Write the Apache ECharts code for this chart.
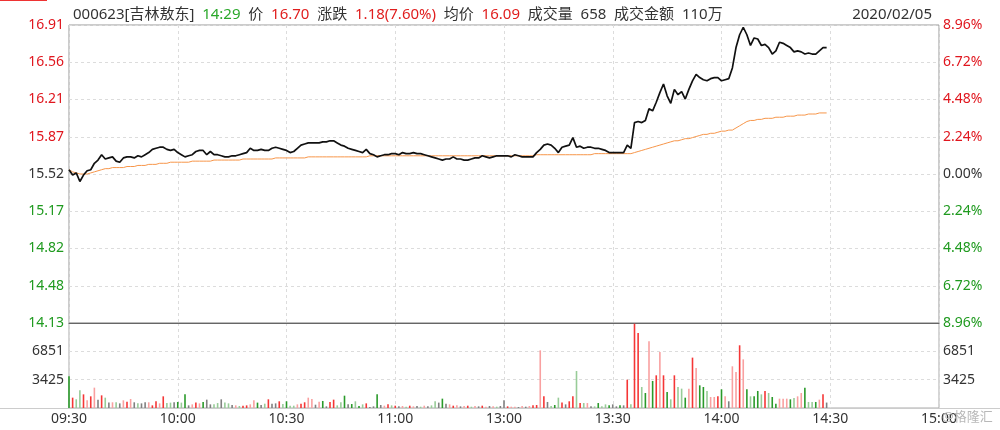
<!DOCTYPE html>
<html><head><meta charset="utf-8">
<script src="https://cdn.jsdelivr.net/npm/echarts@6/dist/echarts.min.js"></script>
<style>html,body{margin:0;padding:0;background:#fff}#c{width:1000px;height:430px}</style>
</head><body><div id="c"></div>
<script>
// ---------- data ----------
const timeLabels = ['09:30','10:00','10:30','11:00','13:00','13:30','14:00','14:30','15:00'];
const priceTicks = ['14.13','14.48','14.82','15.17','15.52','15.87','16.21','16.56','16.91']; // bottom -> top
const pctTicks   = ['8.96%','6.72%','4.48%','2.24%','0.00%','2.24%','4.48%','6.72%','8.96%']; // bottom -> top
const volTicks   = ['', '3425', '6851', ''];
const prevClose = 15.52;
const header = {code:'000623', name:'吉林敖东', time:'14:29', price:'16.70', change:'1.18(7.60%)',
  avg:'16.09', vol:'658', amount:'110万', date:'2020/02/05'};

const prices = [
15.56,15.51,15.53,15.45,15.51,15.55,15.56,15.62,15.65,15.70,
15.66,15.67,15.68,15.64,15.63,15.67,15.68,15.68,15.67,15.69,
15.68,15.70,15.72,15.75,15.76,15.77,15.77,15.75,15.74,15.75,
15.72,15.70,15.68,15.69,15.70,15.73,15.74,15.74,15.70,15.73,
15.70,15.70,15.69,15.68,15.68,15.69,15.69,15.70,15.71,15.72,
15.76,15.74,15.74,15.75,15.74,15.74,15.76,15.77,15.76,15.75,
15.74,15.72,15.73,15.76,15.79,15.80,15.81,15.81,15.81,15.81,
15.82,15.82,15.83,15.83,15.81,15.79,15.78,15.76,15.75,15.74,
15.73,15.72,15.75,15.71,15.70,15.68,15.69,15.70,15.70,15.71,
15.71,15.70,15.72,15.71,15.71,15.72,15.71,15.71,15.70,15.69,
15.68,15.67,15.66,15.65,15.66,15.66,15.68,15.66,15.66,15.65,
15.65,15.66,15.67,15.67,15.69,15.68,15.67,15.68,15.69,15.69,
15.69,15.69,15.68,15.70,15.69,15.68,15.68,15.68,15.68,15.72,
15.75,15.79,15.80,15.79,15.76,15.72,15.77,15.78,15.79,15.86,
15.77,15.78,15.76,15.77,15.77,15.76,15.76,15.75,15.74,15.72,
15.72,15.72,15.72,15.72,15.79,15.76,16.00,16.01,16.00,16.02,
16.13,16.11,16.19,16.28,16.36,16.25,16.18,16.31,16.26,16.29,
16.22,16.31,16.39,16.45,16.42,16.40,16.39,16.41,16.42,16.42,
16.39,16.40,16.41,16.51,16.70,16.82,16.89,16.82,16.72,16.79,
16.78,16.72,16.73,16.70,16.64,16.67,16.75,16.74,16.72,16.70,
16.66,16.67,16.66,16.64,16.65,16.64,16.64,16.67,16.70,16.70];

const avgPrices = [
15.56,15.54,15.53,15.52,15.52,15.52,15.53,15.54,15.55,15.56,
15.57,15.57,15.58,15.58,15.58,15.58,15.59,15.59,15.59,15.60,
15.60,15.60,15.61,15.61,15.61,15.62,15.62,15.62,15.63,15.63,
15.63,15.63,15.63,15.63,15.64,15.64,15.64,15.64,15.64,15.64,
15.65,15.65,15.65,15.65,15.65,15.65,15.65,15.65,15.66,15.66,
15.66,15.66,15.66,15.66,15.66,15.66,15.66,15.67,15.67,15.67,
15.67,15.67,15.67,15.67,15.67,15.67,15.68,15.68,15.68,15.68,
15.68,15.68,15.68,15.68,15.68,15.68,15.68,15.68,15.68,15.68,
15.68,15.68,15.68,15.69,15.69,15.69,15.69,15.69,15.69,15.69,
15.69,15.69,15.69,15.69,15.69,15.69,15.69,15.69,15.69,15.69,
15.69,15.69,15.69,15.69,15.69,15.69,15.69,15.69,15.69,15.69,
15.69,15.69,15.69,15.69,15.69,15.69,15.69,15.69,15.69,15.69,
15.69,15.69,15.69,15.69,15.69,15.69,15.69,15.69,15.69,15.70,
15.70,15.70,15.70,15.70,15.70,15.70,15.70,15.70,15.70,15.70,
15.70,15.70,15.70,15.70,15.70,15.71,15.71,15.71,15.71,15.71,
15.71,15.71,15.71,15.71,15.71,15.71,15.72,15.73,15.74,15.75,
15.76,15.77,15.78,15.79,15.80,15.81,15.82,15.83,15.83,15.84,
15.85,15.85,15.86,15.87,15.88,15.89,15.89,15.90,15.90,15.91,
15.92,15.92,15.93,15.93,15.95,15.97,15.99,16.01,16.02,16.02,
16.03,16.03,16.04,16.04,16.04,16.05,16.05,16.05,16.06,16.06,
16.06,16.07,16.07,16.07,16.08,16.08,16.08,16.09,16.09,16.09];

const volumes = [
3830,1250,1050,2140,1650,930,1410,2460,1000,1530,
1250,650,690,690,560,930,770,1090,690,560,
560,690,690,320,810,560,1410,600,650,690,
730,650,1650,320,440,650,560,730,1010,440,
440,600,1050,650,560,360,320,240,280,320,
440,930,650,360,520,1050,520,560,810,480,
810,280,280,440,520,690,1250,1090,400,770,
850,200,730,1010,320,690,1490,440,480,810,
240,440,560,120,200,1650,360,280,440,320,
280,200,240,160,280,200,240,160,280,200,
320,810,650,1130,520,440,280,320,200,240,
280,160,240,200,280,160,240,200,160,240,
930,200,160,160,120,240,160,240,320,360,
6970,1410,730,240,360,1250,650,440,810,1410,
4470,600,600,600,200,200,600,200,440,320,
440,200,320,320,3420,440,10190,9060,2540,1810,
8060,3270,3950,6770,3950,1930,1050,3950,2540,2340,
1250,2340,6090,4840,2740,2540,2060,1330,1330,1410,
2260,1410,810,5040,4350,7580,5880,2260,1410,1410,
2060,1650,2060,1810,1330,520,1130,1130,1130,1050,
1210,1410,1810,2460,730,730,730,1010,1650,658];

// R red, r light red, G green, g light green, N neutral
const volColors = (
'GRggRrRrNR'+'gNrgNrRrNg'+'NNrRRrRggN'+'GgGNrRrGNN'+'ggNggNrgRR'+
'rrGNgRNNRg'+'GggrRRrrNr'+'GNRRggGNGg'+'GgRNNGNrRg'+'RNrgRrNgrN'+
'ggNGNrRrNr'+'RgrNRrNrgN'+'NRrrNrNrRR'+'rRNgGgRNRR'+'gRgrNgGggG'+
'NNGNRgRRgG'+'rGRrRGgRgg'+'GrRrGGgrrR'+'GrNrrRrGgG'+'GgRgGGrrrG'+
'grrGggGrRN').split('');

// ---------- chart ----------
const FONT = 'Noto Sans, Noto Sans CJK SC, sans-serif';
const RED = '#e0161e', GREEN = '#1f9a1f', GRAY = '#333';
const barColor = {R:'#f53636', r:'#f9a0a0', G:'#2a9a2a', g:'#98cc98', N:'#808080'};
const lo = 14.129, hi = 16.911, step = (hi - lo) / 8;
const sideColor = (v, i) => i < 4 ? GREEN : (i > 4 ? RED : GRAY);
const split = {show:true, lineStyle:{type:[3,3], color:'#dcdcdc', width:1}};

const chart = echarts.init(document.getElementById('c'), null, {renderer:'canvas'});
chart.setOption({
  animation:false,
  backgroundColor:'#fff',
  textStyle:{fontFamily:FONT},
  title:[{
    left:68, top:2,
    text:'{n|'+header.code+'['+header.name+']}  {g|'+header.time+'}  {n|价}  {r|'+header.price+'}  {n|涨跌}  {r|'+
      header.change+'}  {n|均价}  {r|'+header.avg+'}  {n|成交量}  {n|'+header.vol+'}  {n|成交金额}  {n|'+header.amount+'}',
    textStyle:{fontSize:15, fontWeight:'normal', fontFamily:FONT,
      rich:{n:{color:'#333',fontSize:15,fontFamily:FONT}, g:{color:'#2aa82a',fontSize:15,fontFamily:FONT}, r:{color:'#e01e1e',fontSize:15,fontFamily:FONT}}}
  },{
    right:63, top:2, text:header.date,
    textStyle:{fontSize:15, fontWeight:'normal', color:'#333', fontFamily:FONT}
  }],
  grid:[
    {left:69, right:61, top:25, height:298, show:true, borderColor:'#999', borderWidth:1, containLabel:false},
    {left:69, right:61, top:323, height:85, show:true, borderColor:'#aaa', borderWidth:1, containLabel:false}
  ],
  xAxis:[
    {type:'value', gridIndex:0, min:0, max:240, interval:30,
     axisLine:{show:true, onZero:false, lineStyle:{color:'#666'}}, axisTick:{show:false}, axisLabel:{show:false}, splitLine:split},
    {type:'value', gridIndex:1, min:0, max:240, interval:30,
     axisLine:{show:false}, axisTick:{show:false}, splitLine:split,
     axisLabel:{show:true, margin:4, fontSize:14, color:'#333', fontFamily:FONT,
       formatter:(v,i)=>timeLabels[Math.round(v/30)]}}
  ],
  yAxis:[
    {type:'value', gridIndex:0, position:'left', min:lo, max:hi, interval:step,
     axisLine:{show:false}, axisTick:{show:false}, splitLine:split,
     axisLabel:{margin:5, fontSize:14, fontFamily:FONT, color:sideColor, formatter:(v,i)=>priceTicks[i]}},
    {type:'value', gridIndex:0, position:'right', min:lo, max:hi, interval:step,
     axisLine:{show:false}, axisTick:{show:false}, splitLine:{show:false},
     axisLabel:{margin:4, fontSize:14, fontFamily:FONT, color:sideColor, formatter:(v,i)=>pctTicks[i]}},
    {type:'value', gridIndex:1, position:'left', min:0, max:10275, interval:3425,
     axisLine:{show:false}, axisTick:{show:false}, splitLine:split,
     axisLabel:{margin:5, fontSize:14, fontFamily:FONT, color:'#333', formatter:(v,i)=>volTicks[i]}},
    {type:'value', gridIndex:1, position:'right', min:0, max:10275, interval:3425,
     axisLine:{show:false}, axisTick:{show:false}, splitLine:{show:false},
     axisLabel:{margin:4, fontSize:14, fontFamily:FONT, color:'#333', formatter:(v,i)=>volTicks[i]}}
  ],
  series:[
    {type:'line', name:'均价', xAxisIndex:0, yAxisIndex:0, symbol:'none', smooth:false,
     data:avgPrices.map((p,i)=>[i,p]), lineStyle:{color:'#f7964a', width:1}},
    {type:'line', name:'价格', xAxisIndex:0, yAxisIndex:0, symbol:'none', smooth:false,
     data:prices.map((p,i)=>[i,p]), lineStyle:{color:'#111', width:1.7}},
    {type:'bar', name:'成交量', xAxisIndex:1, yAxisIndex:2, barWidth:1.6,
     data:volumes.map((v,i)=>({value:[i,v], itemStyle:{color:barColor[volColors[i]]}}))}
  ],
  graphic:[
    {type:'line', shape:{x1:0,y1:408.5,x2:1000,y2:408.5}, style:{stroke:'#ccc', lineWidth:1}, z:10},
    {type:'rect', shape:{x:0,y:0,width:47,height:1}, style:{fill:'#e33'}},
    {type:'text', left:942, top:411, z:20, style:{text:'@格隆汇', fill:'#b8b8b8', fontSize:13, fontFamily:FONT}}
  ]
});
</script></body></html>
